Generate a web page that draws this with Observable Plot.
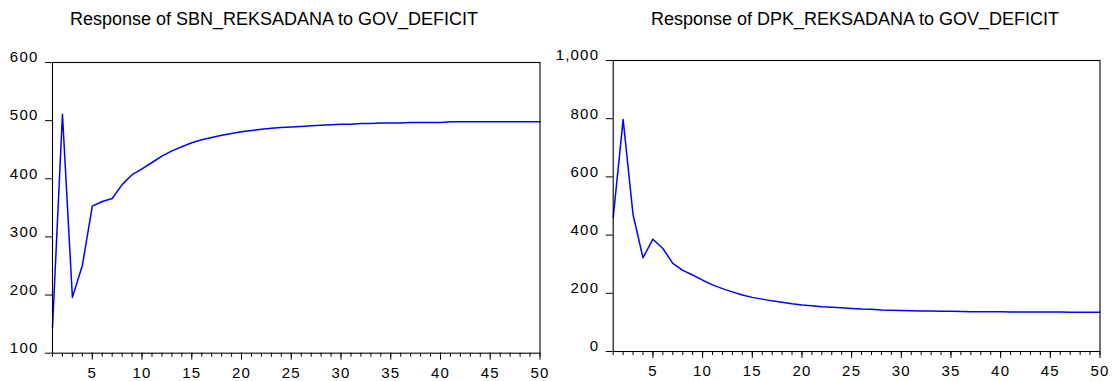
<!DOCTYPE html>
<html>
<head>
<meta charset="utf-8">
<script src="https://cdn.jsdelivr.net/npm/d3@7"></script>
<script src="https://cdn.jsdelivr.net/npm/@observablehq/plot@0.6"></script>
<style>
  html, body { margin: 0; padding: 0; background: #fff; }
  #wrap { position: relative; width: 1112px; height: 381px; overflow: hidden; background: #fff; }
  .panel { position: absolute; top: 0; width: 556px; height: 381px; }
  .title { position: absolute; top: 7px; font-family: "Liberation Sans", Arial, sans-serif; font-size: 18px; color: #000; white-space: nowrap; transform: translateX(-50%); line-height: 24px; }
  svg text { letter-spacing: 1.2px; }
</style>
</head>
<body>
<div id="wrap"></div>
<script>
// Periods (horizon)
const periods = d3.range(1, 51);

// Response of SBN_REKSADANA to GOV_DEFICIT
const sbnResponse = [
  144, 511, 196, 251, 353, 361, 366, 390, 407, 417,
  428, 439, 448, 455, 462, 467, 471, 475, 478, 481,
  483, 485, 487, 488, 489, 490, 491, 492, 493, 494,
  494, 495, 495, 496, 496, 496, 497, 497, 497, 497,
  498, 498, 498, 498, 498, 498, 498, 498, 498, 498
];

// Response of DPK_REKSADANA to GOV_DEFICIT
const dpkResponse = [
  461, 797, 470, 322, 386, 354, 303, 279, 263, 245,
  229, 216, 205, 194, 186, 180, 174, 169, 164, 160,
  157, 154, 152, 150, 148, 146, 145, 143, 142, 141,
  140, 139.5, 139, 138.5, 138, 137.5, 137, 137, 136.5, 136.5,
  136, 136, 136, 135.5, 135.5, 135.5, 135, 135, 135, 135
];

const titles = [
  "Response of SBN_REKSADANA to GOV_DEFICIT",
  "Response of DPK_REKSADANA to GOV_DEFICIT"
];

const xMajorTicks = [5, 10, 15, 20, 25, 30, 35, 40, 45, 50];
const sbnYTicks = [100, 200, 300, 400, 500, 600];
const dpkYTicks = [0, 200, 400, 600, 800, 1000];

function panel({values, yDomain, yTicks, margins}) {
  const data = periods.map((t, i) => ({t, v: values[i]}));
  return Plot.plot({
    width: 556,
    height: 381,
    ...margins,
    style: {fontFamily: "'Liberation Sans', Arial, sans-serif", fontSize: "15px", color: "#000", background: "transparent"},
    x: {domain: [1, 50], label: null},
    y: {domain: yDomain, label: null},
    marks: [
      Plot.line(data, {x: "t", y: "v", stroke: "#0000ff", strokeWidth: 1.5}),
      Plot.frame({stroke: "#000", strokeWidth: 1.1}),
      // y ticks (marks only)
      Plot.axisY({ticks: yTicks, tickSize: 7, tickFormat: () => "", stroke: "#000"}),
      // y labels
      Plot.axisY({ticks: yTicks, tickSize: 0, tickPadding: 14, dy: -5, tickFormat: d3.format(","), fill: "#000"}),
      // x minor ticks
      Plot.axisX({ticks: periods, tickSize: 4, tickFormat: () => "", stroke: "#000"}),
      // x major ticks + labels
      Plot.axisX({ticks: xMajorTicks, tickSize: 7, tickPadding: 7, tickFormat: d3.format("d"), stroke: "#000", fill: "#000"})
    ]
  });
}

const wrap = document.getElementById("wrap");

const left = document.createElement("div");
left.className = "panel";
left.style.left = "0px";
left.appendChild(panel({
  values: sbnResponse, yDomain: [100, 600], yTicks: sbnYTicks,
  margins: {marginLeft: 52, marginRight: 16.5, marginTop: 62, marginBottom: 28.3}
}));
wrap.appendChild(left);

const right = document.createElement("div");
right.className = "panel";
right.style.left = "556px";
right.appendChild(panel({
  values: dpkResponse, yDomain: [0, 1000], yTicks: dpkYTicks,
  margins: {marginLeft: 56.7, marginRight: 12.5, marginTop: 60, marginBottom: 30}
}));
wrap.appendChild(right);

const t1 = document.createElement("div");
t1.className = "title";
t1.style.left = "274px";
t1.textContent = titles[0];
wrap.appendChild(t1);

const t2 = document.createElement("div");
t2.className = "title";
t2.style.left = "855px";
t2.textContent = titles[1];
wrap.appendChild(t2);
</script>
</body>
</html>
